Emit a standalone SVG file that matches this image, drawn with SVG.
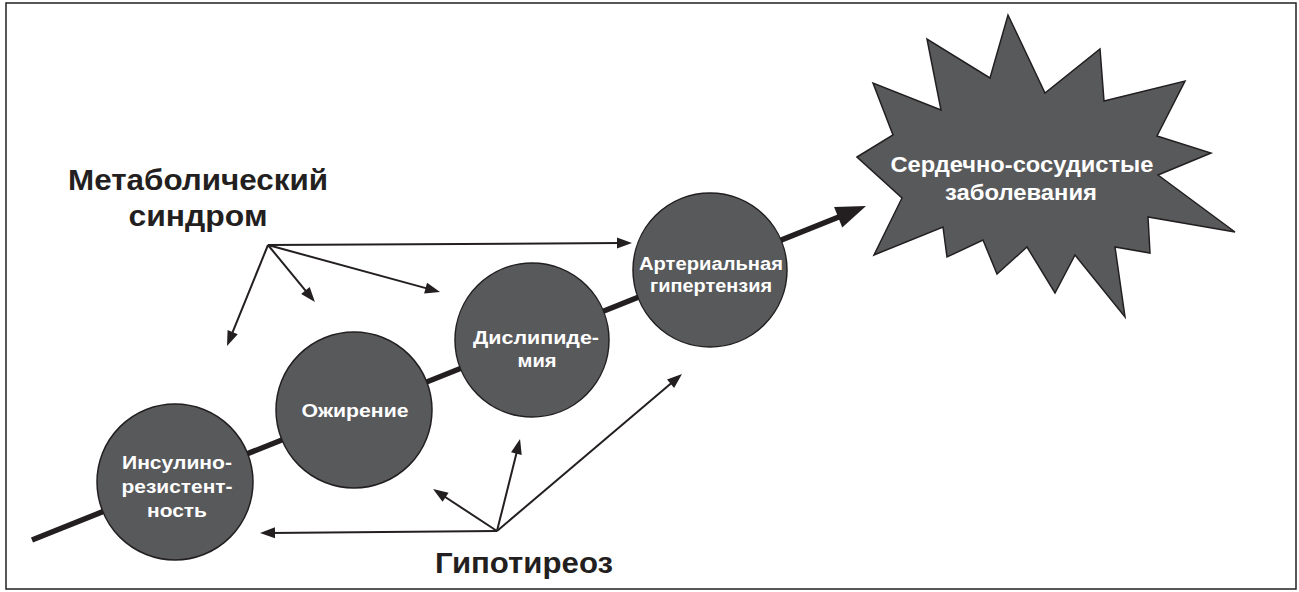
<svg xmlns="http://www.w3.org/2000/svg" width="1299" height="592" viewBox="0 0 1299 592">
<style>
.frame{fill:none;stroke:#231f20;stroke-width:1.5}
.node{fill:#58595b;stroke:#231f20;stroke-width:1.5}
.wt{fill:#ffffff;font-family:"Liberation Sans",Arial,sans-serif;font-weight:bold;font-size:18px;text-anchor:middle}
.st{fill:#ffffff;font-family:"Liberation Sans",Arial,sans-serif;font-weight:bold;font-size:22px;text-anchor:middle}
.bt{fill:#231f20;font-family:"Liberation Sans",Arial,sans-serif;font-weight:bold;font-size:29px;text-anchor:middle}
.main{fill:none;stroke:#231f20;stroke-width:5.5;marker-end:url(#big)}
.thin{fill:none;stroke:#231f20;stroke-width:2;marker-end:url(#small)}
</style>
<defs>
<marker id="big" markerUnits="userSpaceOnUse" markerWidth="30" markerHeight="22" refX="8" refY="11" orient="auto" overflow="visible">
<path d="M0,0 L30,11 L0,22 z" fill="#231f20"/>
</marker>
<marker id="small" markerUnits="userSpaceOnUse" markerWidth="15" markerHeight="11" refX="5" refY="5.5" orient="auto" overflow="visible">
<path d="M0,0 L15,5.5 L0,11 z" fill="#231f20"/>
</marker>
</defs>
<rect x="0" y="0" width="1299" height="592" fill="#ffffff"/>
<rect class="frame" x="6" y="3" width="1290" height="586"/>

<g id="connectors">
<line class="main" x1="32" y1="540" x2="845.6" y2="214.2"/>
<line class="thin" x1="268" y1="245" x2="622" y2="243.05"/>
<line class="thin" x1="268" y1="245" x2="430.4" y2="289.4"/>
<line class="thin" x1="268" y1="245" x2="308.6" y2="294.3"/>
<line class="thin" x1="268" y1="245" x2="230.8" y2="336.7"/>
<line class="thin" x1="497" y1="531" x2="270" y2="532.9"/>
<line class="thin" x1="497" y1="531" x2="441.4" y2="494.5"/>
<line class="thin" x1="497" y1="531" x2="517.6" y2="448.7"/>
<line class="thin" x1="497" y1="531" x2="674.4" y2="380.5"/>
</g>

<g id="metabolic-syndrome">
<text class="bt" x="198" y="190" textLength="260" lengthAdjust="spacingAndGlyphs">Метаболический</text>
<text class="bt" x="198" y="226" textLength="139" lengthAdjust="spacingAndGlyphs">синдром</text>
</g>

<g id="hypothyroidism">
<text class="bt" x="524" y="573" textLength="178" lengthAdjust="spacingAndGlyphs">Гипотиреоз</text>
</g>

<g id="insulin-resistance">
<circle class="node" cx="175" cy="482" r="78"/>
<text class="wt" x="177" y="469" textLength="110" lengthAdjust="spacingAndGlyphs">Инсулино-</text>
<text class="wt" x="177" y="493" textLength="111" lengthAdjust="spacingAndGlyphs">резистент-</text>
<text class="wt" x="177" y="517" textLength="60" lengthAdjust="spacingAndGlyphs">ность</text>
</g>

<g id="obesity">
<circle class="node" cx="354" cy="410" r="78"/>
<text class="wt" x="355" y="417" textLength="107" lengthAdjust="spacingAndGlyphs">Ожирение</text>
</g>

<g id="dyslipidemia">
<circle class="node" cx="532" cy="340" r="77"/>
<text class="wt" x="536" y="344" textLength="126" lengthAdjust="spacingAndGlyphs">Дислипиде-</text>
<text class="wt" x="537" y="367" textLength="39" lengthAdjust="spacingAndGlyphs">мия</text>
</g>

<g id="hypertension">
<circle class="node" cx="710" cy="270" r="77"/>
<text class="wt" x="711" y="270" textLength="144" lengthAdjust="spacingAndGlyphs">Артериальная</text>
<text class="wt" x="711" y="292" textLength="122" lengthAdjust="spacingAndGlyphs">гипертензия</text>
</g>

<g id="cardiovascular">
<polygon class="node" points="857,157 893,135 873,83 941,110 927,39 990,78 1008,15 1045,93 1100,49 1104,101 1185,81 1157,136 1211,153 1158,175 1235,232 1148,217 1150,253 1115,247 1125,317 1075,255 1055,293 1027,247 997,274 983,240 947,257 943,227 874,255 902,198"/>
<text class="st" x="1022" y="172" textLength="263" lengthAdjust="spacingAndGlyphs">Сердечно-сосудистые</text>
<text class="st" x="1021" y="200" textLength="152" lengthAdjust="spacingAndGlyphs">заболевания</text>
</g>
</svg>
